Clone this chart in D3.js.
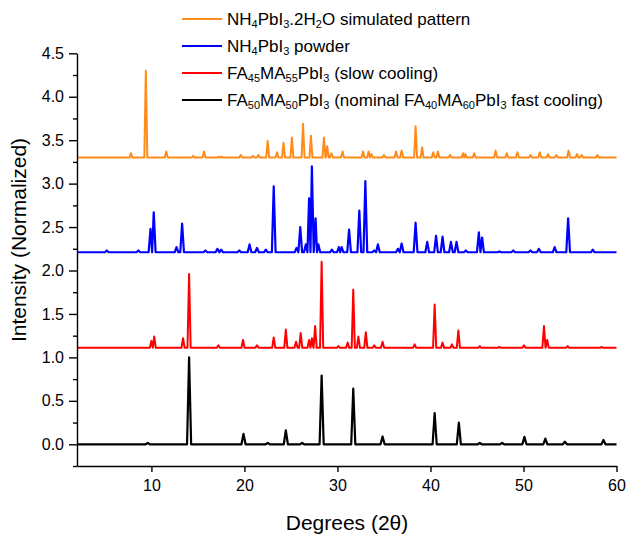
<!DOCTYPE html>
<html>
<head>
<meta charset="utf-8">
<script src="https://cdn.jsdelivr.net/npm/d3@7"></script>
<style>
  body { margin: 0; background: #fff; }
  text { font-family: "Liberation Sans", Arial, sans-serif; fill: #000; }
</style>
</head>
<body>
<div id="chart"></div>
<script>
// tick values
var xTicks = [10, 20, 30, 40, 50, 60];
var yTicks = [0, 0.5, 1, 1.5, 2, 2.5, 3, 3.5, 4, 4.5];
var yMinor = [-0.25, 0.25, 0.75, 1.25, 1.75, 2.25, 2.75, 3.25, 3.75, 4.25];

// baselines (stacked offsets) and peaks [2theta, intensity]
var blackBase = 0.0;
var blackPeaks = [[9.6, 0.015], [14.05, 1.0], [19.9, 0.12], [22.5, 0.015], [24.45, 0.16], [26.2, 0.015],
  [28.3, 0.79], [31.7, 0.64], [34.85, 0.09], [40.45, 0.36], [43.05, 0.25], [45.3, 0.015],
  [47.7, 0.015], [50.1, 0.085], [52.35, 0.065], [54.45, 0.03], [58.6, 0.05]];

var redBase = 1.11;
var redPeaks = [[10.0, 1.19], [10.3, 1.24], [13.4, 1.22], [14.05, 1.96], [17.2, 1.14], [19.85, 1.2],
  [21.35, 1.14], [23.15, 1.23], [24.45, 1.32], [25.55, 1.18], [26.05, 1.28], [26.95, 1.2], [27.25, 1.22],
  [27.6, 1.36], [28.3, 2.1], [30.1, 1.13], [31.1, 1.17], [31.7, 1.78], [32.25, 1.24], [33.05, 1.29],
  [33.95, 1.14], [34.85, 1.18], [38.3, 1.15], [40.45, 1.61], [41.3, 1.17], [42.3, 1.15], [43.0, 1.31],
  [45.3, 1.13], [47.4, 1.12], [50.05, 1.14], [52.2, 1.36], [52.55, 1.2], [54.75, 1.13], [58.4, 1.12]];

var blueBase = 2.21;
var bluePeaks = [[5.2, 2.23], [8.6, 2.23], [9.9, 2.48], [10.25, 2.67], [12.7, 2.27], [13.3, 2.54],
  [15.8, 2.23], [17.1, 2.25], [17.5, 2.24], [19.45, 2.23], [20.55, 2.3], [21.35, 2.26], [22.3, 2.24],
  [23.15, 2.97], [25.6, 2.26], [26.0, 2.5], [26.6, 2.3], [26.95, 2.83], [27.25, 3.2], [27.65, 2.6],
  [27.95, 2.3], [29.4, 2.24], [30.15, 2.27], [30.45, 2.27], [31.25, 2.47], [32.35, 2.69], [33.0, 3.03],
  [33.95, 2.23], [34.35, 2.3], [36.5, 2.25], [36.9, 2.31], [38.4, 2.55], [39.65, 2.33], [40.6, 2.4],
  [41.3, 2.39], [42.2, 2.33], [42.8, 2.33], [43.8, 2.23], [45.2, 2.44], [45.55, 2.38], [47.4, 2.22],
  [48.9, 2.23], [50.75, 2.23], [51.65, 2.25], [53.35, 2.27], [54.8, 2.6], [57.45, 2.24]];

var orangeBase = 3.3;
var orangePeaks = [[7.8, 3.35], [9.4, 4.3], [11.6, 3.37], [14.5, 3.32], [15.65, 3.37], [17.25, 3.31],
  [17.55, 3.31], [19.6, 3.33], [20.9, 3.32], [21.5, 3.33], [22.5, 3.49], [23.5, 3.36], [24.2, 3.47],
  [25.1, 3.53], [26.3, 3.69], [27.15, 3.55], [28.55, 3.53], [28.9, 3.43], [29.35, 3.35], [30.55, 3.37],
  [32.75, 3.37], [33.35, 3.37], [33.65, 3.34], [35.0, 3.33], [36.3, 3.37], [36.9, 3.38], [38.4, 3.66],
  [39.1, 3.42], [40.3, 3.36], [40.8, 3.37], [42.1, 3.33], [43.5, 3.35], [43.75, 3.34], [44.7, 3.35],
  [47.0, 3.38], [48.2, 3.35], [49.35, 3.36], [50.75, 3.33], [51.75, 3.36], [52.65, 3.34], [53.55, 3.33],
  [54.85, 3.38], [55.75, 3.34], [56.25, 3.33], [57.95, 3.33]];

var names = [
  [["NH"], ["4", 1], ["PbI"], ["3", 1], [".2H"], ["2", 1], ["O simulated pattern"]],
  [["NH"], ["4", 1], ["PbI"], ["3", 1], [" powder"]],
  [["FA"], ["45", 1], ["MA"], ["55", 1], ["PbI"], ["3", 1], [" (slow cooling)"]],
  [["FA"], ["50", 1], ["MA"], ["50", 1], ["PbI"], ["3", 1], [" (nominal FA"], ["40", 1], ["MA"], ["60", 1], ["PbI"], ["3", 1], [" fast cooling)"]]
];
var colors = ["#FF8C1A", "#0000FF", "#FF0000", "#000000"];

function init() {
    var w = 626, h = 535;
    var x = d3.scaleLinear().domain([2, 60]).range([77, 616.5]);
    var y = d3.scaleLinear().domain([-0.25, 4.5]).range([466, 53.3]);

    var svg = d3.select("#chart").append("svg")
        .attr("width", w)
        .attr("height", h);

    // turns a peak list into a spiky polyline
    function pattern(base, peaks, hw) {
        var pts = [[2, base]];
        peaks.forEach(function(p, i) {
            var prev = i > 0 ? peaks[i - 1][0] : 2;
            var next = i < peaks.length - 1 ? peaks[i + 1][0] : 60;
            var l = Math.max(p[0] - hw, (p[0] + prev) / 2);
            var r = Math.min(p[0] + hw, (p[0] + next) / 2);
            pts.push([l, base], [p[0], p[1]], [r, base]);
        });
        pts.push([60, base]);
        return pts;
    }

    var line = d3.line()
        .x(function(d) { return x(d[0]); })
        .y(function(d) { return y(d[1]); });

    var series = [
        { pts: pattern(orangeBase, orangePeaks, 0.16), c: colors[0], sw: 2 },
        { pts: pattern(blueBase, bluePeaks, 0.2), c: colors[1], sw: 2.2 },
        { pts: pattern(redBase, redPeaks, 0.17), c: colors[2], sw: 2 },
        { pts: pattern(blackBase, blackPeaks, 0.22), c: colors[3], sw: 2.2 }
    ];

    series.forEach(function(s) {
        svg.append("path")
            .datum(s.pts)
            .attr("fill", "none")
            .attr("stroke", s.c)
            .attr("stroke-width", s.sw)
            .attr("stroke-linejoin", "round")
            .attr("d", line);
    });

    // axes
    var xAxis = d3.axisBottom(x).tickValues(xTicks).tickFormat(d3.format("d"))
        .tickSizeInner(6).tickSizeOuter(0).tickPadding(8);
    var gx = svg.append("g")
        .attr("transform", "translate(0," + 466 + ")")
        .call(xAxis);

    var yAxis = d3.axisLeft(y).tickValues(yTicks).tickFormat(d3.format(".1f"))
        .tickSizeInner(8).tickSizeOuter(0).tickPadding(5);
    var gy = svg.append("g")
        .attr("transform", "translate(77,0)")
        .call(yAxis);

    svg.append("g")
        .attr("transform", "translate(77,0)")
        .call(d3.axisLeft(y).tickValues(yMinor).tickFormat("").tickSizeInner(4).tickSizeOuter(0))
        .select(".domain").remove();

    svg.selectAll(".domain, .tick line")
        .attr("stroke", "#000")
        .attr("stroke-width", 1.4);
    gx.selectAll("text").style("font-size", "16px").attr("fill", "#000");
    gy.selectAll("text").style("font-size", "16px").attr("fill", "#000");

    svg.append("text")
        .attr("x", 347)
        .attr("y", 530)
        .attr("text-anchor", "middle")
        .style("font-size", "21px")
        .text("Degrees (2θ)");

    svg.append("text")
        .attr("transform", "translate(26,240) rotate(-90)")
        .attr("text-anchor", "middle")
        .style("font-size", "21px")
        .text("Intensity (Normalized)");

    // legend
    var rowY = [19, 46, 73, 100];
    names.forEach(function(parts, i) {
        var g = svg.append("g").attr("transform", "translate(0," + rowY[i] + ")");
        g.append("line")
            .attr("x1", 182).attr("x2", 222)
            .attr("y1", 0).attr("y2", 0)
            .attr("stroke", colors[i])
            .attr("stroke-width", 2);
        var t = g.append("text")
            .attr("x", 227)
            .attr("y", 6)
            .style("font-size", "17px");
        parts.forEach(function(p) {
            t.append("tspan")
                .attr("baseline-shift", p[1] ? "-30%" : null)
                .style("font-size", p[1] ? "11px" : null)
                .text(p[0]);
        });
    });
}

window.onload = init;
</script>
</body>
</html>
